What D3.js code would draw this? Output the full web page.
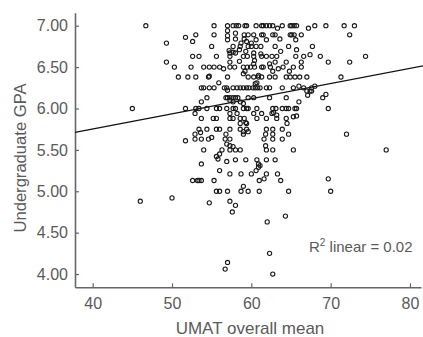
<!DOCTYPE html>
<html>
<head>
<meta charset="utf-8">
<script src="https://cdn.jsdelivr.net/npm/d3@7"></script>
<style>
  html, body { margin: 0; padding: 0; background: #fff; }
  svg { display: block; }
</style>
</head>
<body>
<div id="chart"></div>
<script>
// UMAT overall mean (x) vs undergraduate GPA (y)
const umat = [
  46.7, 55.3, 57.0, 57.7, 58.1, 58.4, 59.2, 59.4, 60.6, 61.3, 61.5, 61.9, 62.3, 62.7, 63.9, 64.9, 65.1, 65.4, 65.7, 67.2, 68.0, 69.4, 71.7, 73.0, 63.3,
  51.7, 53.0, 55.3, 57.0, 58.0, 59.1, 59.6, 60.3, 61.3, 61.5, 62.7, 63.0, 64.9, 65.1, 65.4, 66.3, 72.4, 57.0,
  49.3, 52.6, 57.0, 58.0, 59.1, 59.4, 60.6, 61.9, 63.6, 65.6, 58.7, 60.0,
  55.0, 57.7, 58.6, 59.6, 60.0, 60.6, 61.2, 63.0, 64.7, 67.7,
  57.2, 57.7, 58.5, 59.3, 60.3, 65.7, 63.7, 57.3,
  52.6, 53.4, 55.6, 57.3, 58.0, 59.0, 59.5, 60.3, 61.2, 61.3, 61.9, 62.6, 63.2, 65.6, 66.6, 67.4, 68.7, 74.4,
  49.3, 57.3, 58.5, 60.4, 62.3, 63.0, 64.4, 66.3, 69.7, 72.4, 60.3,
  50.3, 52.4, 54.0, 54.7, 55.3, 56.0, 56.5, 57.3, 57.9, 59.0, 59.5, 59.9, 60.4, 61.3, 61.5, 62.4, 63.4, 64.0, 65.3, 66.3,
  59.2, 62.7, 64.8, 59.0, 60.9,
  50.8, 52.0, 53.0, 54.6, 54.7, 57.0, 59.6, 60.3, 60.9, 61.3, 62.3, 63.0, 64.4, 64.9, 65.5, 66.1, 67.0, 71.3,
  55.9, 60.7, 60.5,
  53.7, 54.0, 54.7, 55.3, 56.6, 56.9, 57.7, 58.2, 58.6, 59.0, 59.4, 59.7, 60.2, 60.5, 60.8, 61.1, 61.9, 62.3, 63.9, 65.3, 66.0, 66.6, 67.6, 68.0,
  57.0, 67.0, 67.4, 67.6, 69.4, 69.0,
  54.4, 56.8, 57.0, 57.3, 57.7, 58.0, 58.3, 59.6, 60.3, 62.3, 64.4, 67.1, 57.3,
  53.7, 57.7, 58.6, 59.0, 66.0,
  45.0, 51.7, 53.0, 53.4, 54.4, 55.6, 56.0, 56.9, 57.7, 58.0, 59.0, 59.4, 59.6, 60.7, 62.7, 63.1, 63.9, 64.4, 64.7, 65.5, 65.7, 69.7,
  52.9, 57.3, 58.2, 60.3, 61.3, 62.6, 62.8, 63.2,
  53.7, 55.2, 55.6, 57.3, 57.7, 58.6, 59.1, 60.7, 61.9, 63.2, 64.4, 65.3, 65.7,
  58.6, 59.3, 59.4, 64.5,
  53.4, 54.4, 55.6, 56.0, 57.3, 58.6, 59.4, 61.9, 62.7, 63.9, 59.0, 59.6,
  52.9, 53.6, 56.8, 59.0, 61.8, 62.7, 64.7, 72.0,
  51.7, 52.9, 53.7, 54.6, 55.0, 56.7, 57.3, 61.6, 62.7, 63.9,
  56.9, 57.3, 57.7, 61.8,
  54.0, 56.3, 57.3, 58.0, 58.6, 61.9, 62.7, 65.3, 77.0,
  55.6, 56.0, 55.8,
  56.9, 58.0, 59.3, 60.7, 61.9, 63.0, 60.9,
  53.7, 61.1, 60.9,
  56.0, 60.6, 57.3, 58.7, 60.0, 61.9, 63.3,
  52.6, 53.2, 53.4, 53.7, 55.3, 61.0, 61.6, 63.7, 69.7,
  59.0,
  55.6, 56.0, 57.0, 58.7, 59.6, 61.0, 64.7, 70.0,
  46.0, 50.0, 54.7, 57.3, 58.0, 57.6, 62.0, 64.3, 62.3, 57.0, 56.7, 62.7
];
const gpa = [
  7.00, 7.00, 7.00, 7.00, 7.00, 7.00, 7.00, 7.00, 7.00, 7.00, 7.00, 7.00, 7.00, 7.00, 7.00, 7.00, 7.00, 7.00, 7.00, 6.97, 7.00, 7.00, 7.00, 7.00, 6.97,
  6.86, 6.89, 6.89, 6.88, 6.91, 6.89, 6.89, 6.89, 6.89, 6.89, 6.89, 6.89, 6.89, 6.89, 6.89, 6.89, 6.89, 6.94,
  6.79, 6.81, 6.83, 6.84, 6.84, 6.81, 6.83, 6.83, 6.84, 6.83, 6.79, 6.79,
  6.75, 6.75, 6.75, 6.75, 6.75, 6.75, 6.75, 6.75, 6.75, 6.75,
  6.70, 6.68, 6.71, 6.69, 6.67, 6.71, 6.69, 6.67,
  6.63, 6.63, 6.63, 6.63, 6.67, 6.63, 6.63, 6.63, 6.66, 6.63, 6.63, 6.63, 6.63, 6.63, 6.63, 6.65, 6.63, 6.63,
  6.56, 6.56, 6.57, 6.58, 6.54, 6.56, 6.56, 6.56, 6.56, 6.56, 6.54,
  6.50, 6.50, 6.50, 6.50, 6.50, 6.50, 6.48, 6.50, 6.50, 6.50, 6.50, 6.50, 6.50, 6.50, 6.50, 6.50, 6.48, 6.50, 6.50, 6.50,
  6.45, 6.45, 6.45, 6.42, 6.40,
  6.38, 6.38, 6.38, 6.38, 6.39, 6.38, 6.38, 6.38, 6.38, 6.38, 6.38, 6.38, 6.38, 6.38, 6.38, 6.38, 6.38, 6.38,
  6.31, 6.31, 6.30,
  6.25, 6.25, 6.25, 6.25, 6.25, 6.25, 6.25, 6.25, 6.25, 6.25, 6.25, 6.25, 6.25, 6.25, 6.25, 6.25, 6.25, 6.25, 6.25, 6.25, 6.27, 6.25, 6.25, 6.27,
  6.22, 6.21, 6.21, 6.21, 6.17, 6.13,
  6.13, 6.13, 6.13, 6.13, 6.13, 6.13, 6.13, 6.13, 6.13, 6.13, 6.13, 6.16, 6.10,
  6.08, 6.08, 6.08, 6.06, 6.08,
  6.00, 6.00, 6.00, 6.00, 6.00, 6.00, 6.00, 6.00, 6.00, 6.00, 6.00, 6.00, 6.00, 6.00, 6.00, 6.00, 6.00, 6.00, 6.00, 6.00, 6.00, 6.00,
  5.94, 5.94, 5.94, 5.94, 5.94, 5.94, 5.95, 5.92,
  5.88, 5.88, 5.88, 5.88, 5.88, 5.88, 5.88, 5.88, 5.88, 5.88, 5.88, 5.90, 5.91,
  5.82, 5.83, 5.82, 5.82,
  5.75, 5.75, 5.75, 5.75, 5.75, 5.75, 5.75, 5.75, 5.75, 5.75, 5.72, 5.72,
  5.69, 5.71, 5.69, 5.69, 5.69, 5.69, 5.69, 5.69,
  5.61, 5.63, 5.63, 5.63, 5.65, 5.63, 5.63, 5.63, 5.63, 5.63,
  5.57, 5.55, 5.54, 5.55,
  5.50, 5.50, 5.50, 5.50, 5.50, 5.50, 5.50, 5.50, 5.50,
  5.42, 5.45, 5.39,
  5.36, 5.38, 5.38, 5.38, 5.38, 5.38, 5.33,
  5.33, 5.31, 5.29,
  5.25, 5.25, 5.21, 5.21, 5.21, 5.21, 5.21,
  5.13, 5.13, 5.13, 5.13, 5.13, 5.13, 5.15, 5.13, 5.15,
  5.06,
  5.00, 5.00, 5.00, 5.00, 5.00, 5.00, 5.00, 5.00,
  4.88, 4.92, 4.86, 4.88, 4.83, 4.75, 4.63, 4.70, 4.25, 4.14, 4.06, 4.00
];
const xTicks = [40, 50, 60, 70, 80];
const yTicks = [4.0, 4.5, 5.0, 5.5, 6.0, 6.5, 7.0];
const fitIntercept = 5.02;
const fitSlope = 0.0183;
const fitLabel = 'linear = 0.02';

let w = 423;
let h = 337;
let mLeft = 75, mRight = 421, mTop = 12.7, mBottom = 287.3;

let x = d3.scaleLinear().domain([37.77, 81.39]).range([mLeft, mRight]);
let y = d3.scaleLinear().domain([3.84, 7.157]).range([mBottom, mTop]);

let svg = d3.select('#chart').append('svg').attr('width', w).attr('height', h);

let axisColor = '#666666';
let textColor = '#5a5a5a';
let font = '"Liberation Sans", Arial, sans-serif';

// x axis
let gx = svg.append('g')
  .attr('transform', `translate(0, ${mBottom})`)
  .call(d3.axisBottom(x).tickValues(xTicks).tickSizeInner(-4).tickSizeOuter(0).tickPadding(10));
gx.select('.domain').attr('stroke', axisColor).attr('stroke-width', 1.6);
gx.selectAll('.tick line').attr('stroke', axisColor).attr('stroke-width', 1.2);
gx.selectAll('.tick text')
  .attr('fill', textColor)
  .attr('font-family', font)
  .attr('font-size', 16);

// y axis
let gy = svg.append('g')
  .attr('transform', `translate(${mLeft}, 0)`)
  .call(d3.axisLeft(y).tickValues(yTicks).tickFormat(d3.format('.2f')).tickSizeInner(-4).tickSizeOuter(0).tickPadding(7));
gy.select('.domain').attr('stroke', axisColor).attr('stroke-width', 1.6);
gy.selectAll('.tick line').attr('stroke', axisColor).attr('stroke-width', 1.2);
gy.selectAll('.tick text')
  .attr('fill', textColor)
  .attr('font-family', font)
  .attr('font-size', 16);

// axis titles
svg.append('text')
  .attr('x', (mLeft + mRight) / 2 + 2)
  .attr('y', 333.5)
  .attr('text-anchor', 'middle')
  .attr('fill', textColor)
  .attr('font-family', font)
  .attr('font-size', 17)
  .text('UMAT overall mean');

svg.append('text')
  .attr('transform', `translate(25.5, 158) rotate(-90)`)
  .attr('text-anchor', 'middle')
  .attr('fill', textColor)
  .attr('font-family', font)
  .attr('font-size', 16.6)
  .text('Undergraduate GPA');

// fit line
let fitX = [x.domain()[0], 82];
svg.append('path')
  .datum(fitX)
  .attr('d', d3.line().x(d => x(d)).y(d => y(fitIntercept + fitSlope * d)))
  .attr('stroke', '#111')
  .attr('stroke-width', 1.2)
  .attr('fill', 'none');

// points
svg.append('g').selectAll('circle')
  .data(d3.range(umat.length))
  .enter().append('circle')
  .attr('cx', i => x(umat[i]))
  .attr('cy', i => y(gpa[i]))
  .attr('r', 2.1)
  .attr('fill', 'none')
  .attr('stroke', '#1a1a1a')
  .attr('stroke-width', 1.1);

// r squared label
let rt = svg.append('text')
  .attr('x', 309)
  .attr('y', 252)
  .attr('fill', textColor)
  .attr('font-family', font)
  .attr('font-size', 15);
rt.append('tspan').text('R');
rt.append('tspan').attr('font-size', 10).attr('dy', -6).text('2');
rt.append('tspan').attr('dy', 6).text(' ' + fitLabel);
</script>
</body>
</html>
